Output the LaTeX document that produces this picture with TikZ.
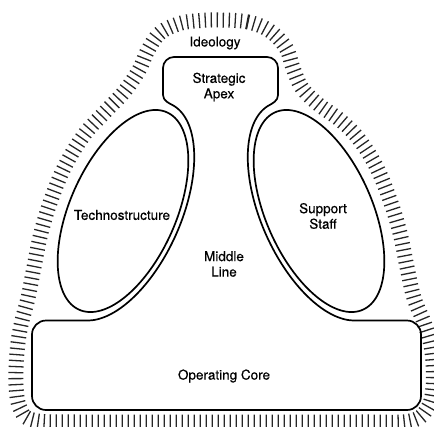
\documentclass[tikz,border=0pt]{standalone}
\usepackage{fontspec}
\setmainfont{TeX Gyre Heros}
\newfontfamily\lblfont{TeX Gyre Heros}[FakeBold=0.5]
\usetikzlibrary{decorations.pathreplacing}
\begin{document}
\begin{tikzpicture}[x=1pt,y=-1pt,
  outline/.style={line width=1.7pt, line join=round},
  hatch/.style={line width=1.3pt, draw=black!85, decorate, decoration={ticks, segment length=6pt, amplitude=7.5pt}},
  lbl/.style={font=\lblfont\fontsize{13.5}{15.5}\selectfont, align=center, inner sep=0pt}]
\useasboundingbox (0,0) rectangle (434,426);
\clip (0,0) rectangle (434,426);
% hatched ideology ring
\draw[hatch] plot[smooth cycle, tension=0.6] coordinates {
  (218,20) (248,22) (270,31) (286,48) (293,68) (302,88) (318,104) (340,120)
  (358,138) (376,166) (390,200) (400,233) (407,267) (414,298) (425,325)
  (432,352) (433,388) (427,409) (410,421) (360,422) (225,422) (80,422)
  (33,420) (20,408) (16,385) (17,352) (21,325) (28,298) (34,267) (41,233)
  (51,200) (65,166) (84,135) (104,113) (124,92) (139,70) (148,50) (160,33)
  (178,24) (195,21)};
% middle line / apex / operating core outline
\draw[outline] (220,57) [rounded corners=11] -- (278,57) -- (278,80) [sharp corners] -- (278,95)
  .. controls (278,101) and (272.2,103.5) .. (268.7,105.5)
  -- plot[domain=3:167.55, samples=90, variable=\t]
     ({319-47.6*cos(\t)-53.0*sin(\t)}, {211-106.9*cos(\t)+23.6*sin(\t)})
  -- (385,320.5) [rounded corners=14] -- (421,320.5) -- (421,410) -- (32,410) -- (32,320.5)
  -- (60,320.5) [sharp corners] -- (87.9,320.5)
  -- plot[domain=167.55:3, samples=90, variable=\t]
     ({123+47.6*cos(\t)+53.0*sin(\t)}, {211-106.9*cos(\t)+23.6*sin(\t)})
  .. controls (169.8,103.5) and (163,101) .. (163,95)
  -- (163,80) [rounded corners=11] -- (163,57) -- cycle;
% technostructure and support staff
\draw[outline] plot[domain=0:360, samples=145, variable=\t]
  ({123+43.9*cos(\t)+48.4*sin(\t)}, {211-98.7*cos(\t)+21.6*sin(\t)}) -- cycle;
\draw[outline] plot[domain=0:360, samples=145, variable=\t]
  ({319-43.9*cos(\t)-48.4*sin(\t)}, {211-98.7*cos(\t)+21.6*sin(\t)}) -- cycle;
% labels
\node[lbl] (ideology) at (215,43) {Ideology};
\node[lbl] (apex) at (219,87) {Strategic\\Apex};
\node[lbl] (techno) at (122,215) {Technostructure};
\node[lbl] (support) at (323,216) {Support\\Staff};
\node[lbl] (middle) at (224,264) {Middle\\Line};
\node[lbl] (core) at (224,376) {Operating Core};
\end{tikzpicture}
\end{document}
